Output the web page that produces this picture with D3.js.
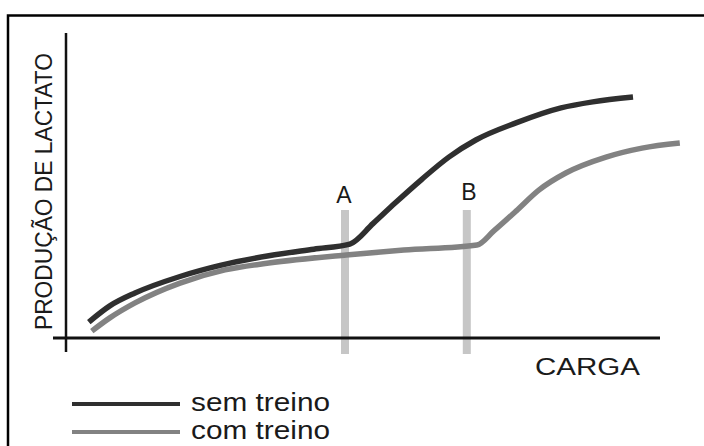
<!DOCTYPE html>
<html>
<head>
<meta charset="utf-8">
<script src="https://cdn.jsdelivr.net/npm/d3@7"></script>
<style>
  html, body { margin: 0; background: #fff; overflow: hidden; }
  svg { display: block; }
  svg text { font-family: "Liberation Sans", Arial, Helvetica, sans-serif; fill: #1a1a1a; }
</style>
</head>
<body>
<div id="chart"></div>
<script>
// carga (x, 0-100) vs produção de lactato (y, 0-100)
const semTreinoX = [3.8, 7.3, 11.5, 19, 25.7, 33.8, 41.3, 47.3, 51.2, 54.8, 59.3, 63.8, 68.3, 75, 82.5, 87.8, 94.5];
const semTreinoY = [5.3, 10.7, 15, 20.5, 24.2, 27.4, 29.6, 31.3, 38.2, 44.9, 52.9, 60.3, 66, 71.7, 76.7, 78.7, 80.3];
const comTreinoX = [4.3, 7.3, 11.5, 19, 26.5, 33.8, 46.7, 56.3, 68.5, 71.3, 75, 78.8, 83.3, 90, 96, 102.3];
const comTreinoY = [2.3, 6.7, 11.7, 18.3, 22.7, 25, 27.7, 29.3, 31, 35.7, 42.3, 49.3, 55, 60.3, 63.3, 65];
const limiares = ["A", "B"];
const limiarX = [46.5, 66.8];
const legendLabels = ["sem treino", "com treino"];
const yTitle = "PRODUÇÃO DE LACTATO";
const xTitle = "CARGA";

const width = 704, height = 446;
const svg = d3.select("#chart").append("svg")
    .attr("width", width)
    .attr("height", height);

// frame: only top and left edges show in the scan
svg.append("path")
    .attr("d", "M720,15.5H8V460")
    .attr("fill", "none")
    .attr("stroke", "#000")
    .attr("stroke-width", 2.5);

const x = d3.scaleLinear().domain([0, 100]).range([66, 666]);
const y = d3.scaleLinear().domain([0, 100]).range([338, 38]);

// threshold bars
svg.selectAll(".limiar")
    .data(limiarX)
    .enter().append("line")
    .attr("class", "limiar")
    .attr("x1", d => x(d)).attr("x2", d => x(d))
    .attr("y1", 210).attr("y2", 354)
    .attr("stroke", "#c6c6c6")
    .attr("stroke-width", 8);

svg.selectAll(".limiar-label")
    .data(limiares)
    .enter().append("text")
    .attr("class", "limiar-label")
    .attr("x", (d, i) => x(limiarX[i]) + (i ? 2 : -1))
    .attr("y", (d, i) => i ? 200 : 203)
    .attr("text-anchor", "middle")
    .attr("font-size", 23)
    .text(d => d);

// axes (plain lines, no ticks)
svg.append("line")
    .attr("x1", 53).attr("x2", 660)
    .attr("y1", y(0)).attr("y2", y(0))
    .attr("stroke", "#111").attr("stroke-width", 3);
svg.append("line")
    .attr("x1", x(0)).attr("x2", x(0))
    .attr("y1", 33).attr("y2", 352)
    .attr("stroke", "#111").attr("stroke-width", 2.5);

// curves
const line = d3.line()
    .x(d => x(d[0]))
    .y(d => y(d[1]))
    .curve(d3.curveMonotoneX);

const series = [
    {name: legendLabels[0], pts: d3.zip(semTreinoX, semTreinoY), color: "#2f2f2f"},
    {name: legendLabels[1], pts: d3.zip(comTreinoX, comTreinoY), color: "#828282"}
];

svg.selectAll(".curve")
    .data(series.slice().reverse())
    .enter().append("path")
    .attr("class", "curve")
    .attr("d", d => line(d.pts))
    .attr("fill", "none")
    .attr("stroke", d => d.color)
    .attr("stroke-width", 5.5)
    .attr("stroke-linejoin", "round");

// axis titles
svg.append("text")
    .attr("transform", "translate(52,330) rotate(-90)")
    .attr("font-size", 23)
    .attr("textLength", 277)
    .attr("lengthAdjust", "spacingAndGlyphs")
    .text(yTitle);

svg.append("text")
    .attr("x", 535).attr("y", 375)
    .attr("font-size", 23)
    .attr("textLength", 105)
    .attr("lengthAdjust", "spacingAndGlyphs")
    .text(xTitle);

// legend
const legend = svg.append("g").attr("class", "legend");
legend.selectAll("line")
    .data(series)
    .enter().append("line")
    .attr("x1", 72).attr("x2", 180)
    .attr("y1", (d, i) => 404 + i * 28)
    .attr("y2", (d, i) => 404 + i * 28)
    .attr("stroke", d => d.color)
    .attr("stroke-width", 4);
legend.selectAll("text")
    .data(series)
    .enter().append("text")
    .attr("x", 191)
    .attr("y", (d, i) => 411 + i * 28)
    .attr("font-size", 25)
    .attr("textLength", 139)
    .attr("lengthAdjust", "spacingAndGlyphs")
    .text(d => d.name);
</script>
</body>
</html>
